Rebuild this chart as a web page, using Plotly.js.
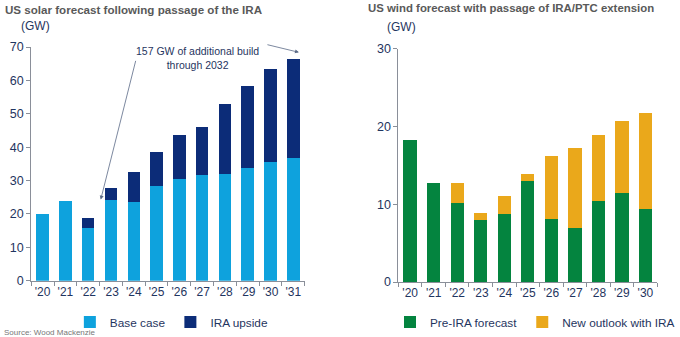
<!DOCTYPE html>
<html><head><meta charset="utf-8">
<script src="https://cdn.plot.ly/plotly-3.0.1.min.js"></script>
<style>html,body{margin:0;padding:0;background:#fff}#c{width:680px;height:337px}</style>
</head><body><div id="c"></div>
<script>
const solarYears = ["'20","'21","'22","'23","'24","'25","'26","'27","'28","'29","'30","'31"];
const solarBase = [20.0, 24.0, 15.7, 24.1, 23.7, 28.4, 30.4, 31.7, 32.1, 33.7, 35.7, 36.7];
const solarUpside = [0, 0, 3.0, 3.7, 8.8, 10.2, 13.3, 14.3, 20.8, 24.7, 27.7, 29.6];
const windYears = ["'20","'21","'22","'23","'24","'25","'26","'27","'28","'29","'30"];
const windPre = [18.2, 12.7, 10.1, 8.0, 8.8, 13.0, 8.1, 6.9, 10.4, 11.4, 9.4];
const windNew = [0, 0, 2.6, 0.9, 2.3, 0.9, 8.1, 10.3, 8.5, 9.3, 12.3];

const navyTxt = '#1f3560';
const W = 680, H = 337;
const fx = p => p / W, fy = p => 1 - p / H;

const traces = [
  {type:'bar', x: solarYears, y: solarBase, name:'Base case', marker:{color:'#0ea2dd'}, width:0.55, xaxis:'x', yaxis:'y', legend:'legend'},
  {type:'bar', x: solarYears, y: solarUpside, name:'IRA upside', marker:{color:'#0c2c78'}, width:0.55, xaxis:'x', yaxis:'y', legend:'legend'},
  {type:'bar', x: windYears, y: windPre, name:'Pre-IRA forecast', marker:{color:'#04843f'}, width:0.57, xaxis:'x2', yaxis:'y2', legend:'legend2'},
  {type:'bar', x: windYears, y: windNew, name:'New outlook with IRA', marker:{color:'#eaa81b'}, width:0.57, xaxis:'x2', yaxis:'y2', legend:'legend2'}
];

const xCommon = {type:'category', tickangle:0, showline:true, linecolor:'#8a8f99', linewidth:1, ticks:'outside', tickson:'boundaries', ticklen:4, tickcolor:'#8a8f99', showgrid:false, zeroline:false, tickfont:{family:'Liberation Sans, Arial', size:12, color:navyTxt}};
const yCommon = {showline:true, linecolor:'#8a8f99', linewidth:1, ticks:'outside', ticklen:4, tickcolor:'#8a8f99', showgrid:false, zeroline:false, dtick:10, tickfont:{family:'Liberation Sans, Arial', size:12.5, color:navyTxt}};

const layout = {
  width: W, height: H,
  margin:{l:0,r:0,t:0,b:0},
  paper_bgcolor:'#fff', plot_bgcolor:'#fff',
  barmode:'stack',
  font:{family:'Liberation Sans, Arial', color:navyTxt},
  xaxis: Object.assign({}, xCommon, {domain:[fx(32), fx(312)], range:[-0.5, 11.5], anchor:'y'}),
  yaxis: Object.assign({}, yCommon, {domain:[fy(280.7), fy(47)], range:[0,70], anchor:'x'}),
  xaxis2: Object.assign({}, xCommon, {domain:[fx(408), fx(673)], range:[-0.5, 10.5], anchor:'y2'}),
  yaxis2: Object.assign({}, yCommon, {domain:[fy(282), fy(48.7)], range:[0,30], anchor:'x2'}),
  showlegend:true,
  legend:{orientation:'h', x:fx(176), y:fy(322), xanchor:'center', yanchor:'middle', font:{size:11.8, color:navyTxt}, itemwidth:30, traceorder:'normal', bgcolor:'rgba(0,0,0,0)'},
  legend2:{orientation:'h', x:fx(548), y:fy(322), xanchor:'center', yanchor:'middle', font:{size:11.8, color:navyTxt}, itemwidth:30, traceorder:'normal', bgcolor:'rgba(0,0,0,0)'},
  annotations:[
    {xref:'paper', yref:'paper', x:fx(3), y:fy(9), xanchor:'left', yanchor:'middle', showarrow:false, text:'<b>US solar forecast following passage of the IRA</b>', font:{size:11.6, color:'#595959'}},
    {xref:'paper', yref:'paper', x:fx(19), y:fy(26), xanchor:'left', yanchor:'middle', showarrow:false, text:'(GW)', font:{size:12, color:navyTxt}},
    {xref:'paper', yref:'paper', x:fx(375), y:fy(8), xanchor:'left', yanchor:'middle', showarrow:false, text:'<b>US wind forecast with passage of IRA/PTC extension</b>', font:{size:11.4, color:'#595959'}},
    {xref:'paper', yref:'paper', x:fx(394), y:fy(27), xanchor:'left', yanchor:'middle', showarrow:false, text:'(GW)', font:{size:12, color:navyTxt}},
    {xref:'paper', yref:'paper', x:fx(2), y:fy(332), xanchor:'left', yanchor:'middle', showarrow:false, text:'Source: Wood Mackenzie', font:{size:8, color:'#777'}},
    {xref:'x', yref:'y', x:6.8, y:66.6, showarrow:false, text:'157 GW of additional build<br>through 2032', font:{size:10.5, color:navyTxt}, align:'center'},
    {xref:'x', yref:'y', x:2.55, y:24.3, axref:'x', ayref:'y', ax:4.1, ay:66.3, showarrow:true, arrowhead:2, arrowsize:1, arrowwidth:0.8, arrowcolor:'#5b6a86', text:''},
    {xref:'x', yref:'y', x:11.25, y:68.4, axref:'x', ayref:'y', ax:9.8, ay:70.8, showarrow:true, arrowhead:2, arrowsize:1, arrowwidth:0.8, arrowcolor:'#5b6a86', text:''}
  ]
};

Plotly.newPlot('c', traces, layout, {displayModeBar:false, staticPlot:true});
</script>
</body></html>
